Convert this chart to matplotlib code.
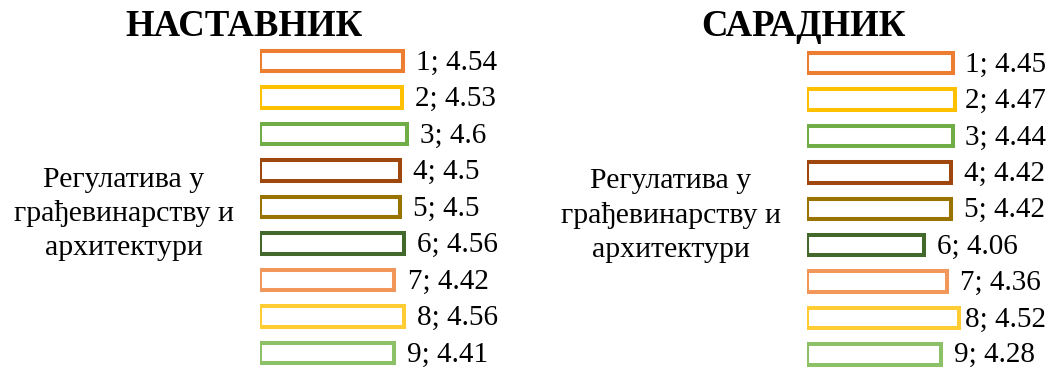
import matplotlib
matplotlib.use("Agg")
import matplotlib.pyplot as plt

plt.rcParams['font.family'] = ['Liberation Serif', 'DejaVu Serif']

# data
category = 'Регулатива у\nграђевинарству и\nархитектури'
series = ['1', '2', '3', '4', '5', '6', '7', '8', '9']
mentor = [4.54, 4.53, 4.6, 4.5, 4.5, 4.56, 4.42, 4.56, 4.41]
associate = [4.45, 4.47, 4.44, 4.42, 4.42, 4.06, 4.36, 4.52, 4.28]
colors = ['#ED7D31', '#FFC000', '#70AD47', '#9E480E', '#997300',
          '#43682B', '#F1975A', '#FFCD33', '#8CC168']
titles = ['НАСТАВНИК', 'САРАДНИК']

W, H = 1048, 369
fig = plt.figure(figsize=(W / 100, H / 100), dpi=100)

base = 2.5
# axes boxes in pixels: left, top, width, height
boxes = [(260, 42.75, 175, 328.5), (807, 45, 187.5, 327.6)]
title_pos = [(244, 26), (803, 27)]

labels_right = []
for i, (vals, box, title) in enumerate(zip([mentor, associate], boxes, titles)):
    l, t, w, h = box
    ax = fig.add_axes([l / W, 1 - (t + h) / H, w / W, h / H])
    ypos = list(range(1, len(series) + 1))
    ax.barh(ypos, [v - base for v in vals], left=base, height=0.56,
            facecolor='white', edgecolor=colors, linewidth=2.9)
    ax.set_xlim(base, 5.0)
    ax.set_ylim(len(series) + 0.5, 0.5)
    for y, v, s in zip(ypos, vals, series):
        a = ax.annotate(f'{s}; {v:g}', (v, y), xytext=(9.5, -1),
                        textcoords='offset points', ha='left', va='center',
                        fontsize=21, annotation_clip=False)
        if i == 1:
            labels_right.append(a)
    ax.set_yticks([5])
    ax.set_yticklabels([category], fontsize=21.5, multialignment='center',
                       linespacing=1.38)
    ax.tick_params(axis='y', length=0, pad=19)
    ax.set_xticks([])
    for sp in ax.spines.values():
        sp.set_visible(False)
    ax.patch.set_alpha(0)
    fig.text(title_pos[i][0] / W, 1 - title_pos[i][1] / H, title,
             ha='center', va='center', fontsize=26.5, fontweight='bold')

# keep labels inside the figure
fig.canvas.draw()
r = fig.canvas.get_renderer()
for a in labels_right:
    bb = a.get_window_extent(r)
    x0, y0 = a.xyann
    dx = min(0, (W - 2) - bb.x1)
    dy = max(0, 1 - bb.y0)
    a.xyann = (x0 + dx * 72 / 100, y0 + dy * 72 / 100)

fig.savefig('out.png', dpi=100)
